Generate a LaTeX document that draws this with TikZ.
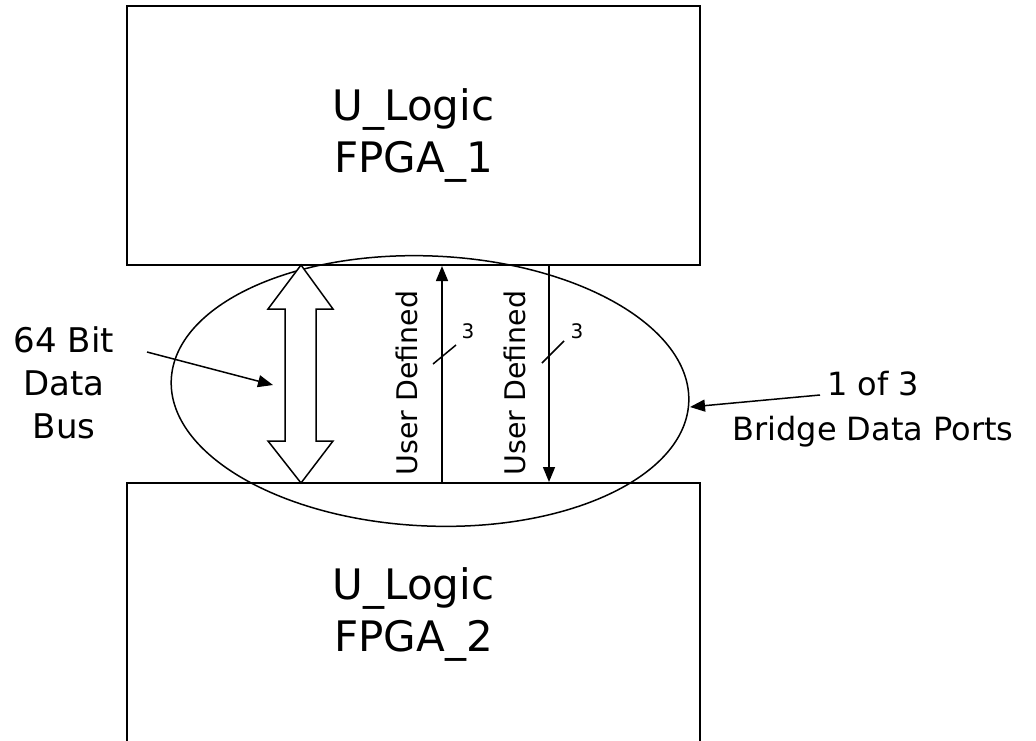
\documentclass[tikz,border=0pt]{standalone}
\usepackage{fontspec}
\setmainfont{DejaVu Sans}
\usetikzlibrary{arrows.meta,shapes.geometric}
\begin{document}
\begin{tikzpicture}[x=0.5pt,y=-0.5pt,
  box/.style={draw, line width=1pt, minimum width=286.5pt, align=center,
    font=\fontsize{21}{26}\selectfont, inner sep=0pt},
  conn/.style={line width=0.75pt, -{Triangle[length=7.5pt,width=6pt]}},
  thin/.style={line width=0.75pt},
  udef/.style={rotate=90, font=\fontsize{14.2}{17}\selectfont, inner sep=0pt},
  small/.style={font=\fontsize{10}{12}\selectfont, inner sep=0pt},
  lbl/.style={align=center, inner sep=0pt}]
\useasboundingbox (0,0) rectangle (1036,740);
\clip (0,0) rectangle (1036,740);
% boxes
\node[box, minimum height=129.5pt] (fpga1) at (413.5,135.5) {U\_Logic\\FPGA\_1};
\node[box, minimum height=131pt] (fpga2) at (413.5,614) {U\_Logic\\FPGA\_2};
% ellipse for the port
\node[draw, ellipse, thin, minimum width=259pt, minimum height=135pt,
  inner sep=0pt, rotate=-2.5] (port) at (430,391) {};
% 64 bit bus double arrow
\draw[thin, fill=white] (301,265) -- (333,309) -- (316,309) -- (316,441) -- (333,441)
  -- (301,483) -- (268,441) -- (285,441) -- (285,309) -- (268,309) -- cycle;
% user defined signals
\draw[conn] (442,0 |- fpga2.north) -- (442,0 |- fpga1.south);
\draw[conn] (549,0 |- fpga1.south) -- (549,0 |- fpga2.north);
\draw[thin] (433,364) -- (456,345);
\draw[thin] (542,363) -- (564,341);
\node[small] (w1) at (468,331) {3};
\node[small] (w2) at (577,331) {3};
\node[udef] (ud1) at (407,383) {User Defined};
\node[udef] (ud2) at (515,383) {User Defined};
% left label
\node[lbl, font=\fontsize{17}{21.5}\selectfont] (bus) at (64,383) {64 Bit\\Data\\Bus};
\coordinate (busfrom) at (147,352);
\coordinate (busto) at (273,385);
\draw[conn] (busfrom) -- (busto);
% right label
\node[lbl, font=\fontsize{16}{22.5}\selectfont] (ports) at (873,409) {1 of 3\\Bridge Data Ports};
\coordinate (pfrom) at (820,395);
\coordinate (pto) at (690,407);
\draw[conn] (pfrom) -- (pto);
\end{tikzpicture}
\end{document}
